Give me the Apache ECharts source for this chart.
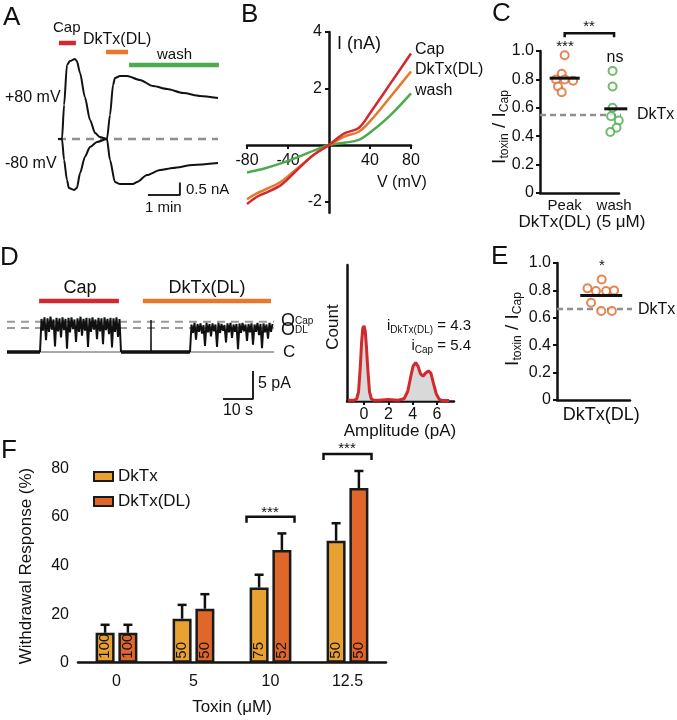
<!DOCTYPE html>
<html><head><meta charset="utf-8">
<script src="https://cdn.jsdelivr.net/npm/echarts@6/dist/echarts.min.js"></script>
<style>html,body{margin:0;padding:0;background:#fff}#c{width:677px;height:720px}</style>
</head><body><div id="c"></div>
<script>
const FF = '"Liberation Sans", Arial, Helvetica, sans-serif';
const INK = '#111';
const RED = '#D2292F', ORANGE = '#E8772E', GREEN = '#4CAB4A', GOLD = '#E9A232', DLORANGE = '#E0672A', GRAY = '#8f8f8f';

// ---------- Panel A: whole-cell current over time (min, nA) ----------
const aTimePos = [0,0.125,0.19,0.28,0.375,0.53,0.59,0.69,0.84,1.0,1.16,1.31,1.53,1.625,1.72,1.78,1.94,2.16,2.56,2.97,3.41,3.91,4.44,5.0];
const aCurPos  = [0,0,1.39,3.02,3.18,3.27,3.18,2.69,1.71,0.78,0.24,0.08,0,0.98,2.2,2.49,2.57,2.57,2.41,2.16,2.04,1.88,1.76,1.67];
const aTimeNeg = [0,0.125,0.19,0.28,0.34,0.5,0.59,0.69,0.84,1.0,1.22,1.53,1.625,1.78,1.94,2.34,2.47,2.78,3.19,3.59,4.22,5.0];
const aCurNeg  = [0,0,-0.86,-1.67,-2.0,-2.08,-2.0,-1.39,-0.73,-0.33,-0.12,0,-0.86,-1.76,-1.84,-1.84,-1.76,-1.47,-1.27,-1.18,-1.06,-0.98];
const aCapPeriod = [0.03,0.56], aDLPeriod = [1.5,2.19], aWashPeriod = [2.22,5.03];

// ---------- Panel B: I-V curves (mV, nA) ----------
const bVolt = [-80,-71,-63,-47,-31,-15,0,15,29,41,60,80];
const bCap  = [-2.09,-1.85,-1.71,-1.42,-0.88,-0.35,0,0.41,0.60,1.18,2.18,3.24];
const bDL   = [-1.92,-1.72,-1.59,-1.30,-0.83,-0.35,0,0.30,0.47,0.88,1.71,2.60];
const bWash = [-0.97,-0.90,-0.83,-0.65,-0.44,-0.20,0,0.08,0.18,0.47,1.06,1.83];
const bTicksX = [-80,-40,40,80], bTicksY = [-2,2,4];

// ---------- Panel C: Itoxin/ICap ----------
const cPeak = [0.97,0.84,0.80,0.80,0.79,0.75,0.71];
const cPeakJitter = [0,-0.12,-0.35,0,0.34,-0.27,-0.12];
const cWash = [0.86,0.75,0.60,0.54,0.51,0.46,0.43];
const cWashJitter = [-0.06,-0.06,-0.06,-0.12,0.19,0.1,-0.15];
const cDkTxRef = 0.55;
const cGroups = ['Peak','wash'];

// ---------- Panel D: single-channel trace (s, pA) ----------
const dCapStart = 11, dDLStart = 61, dStep = 0.5;
const dCapBurst = [0,5.9,3.8,6.2,2.1,6.0,3.6,6.3,4.0,5.8,1.0,6.1,3.7,6.0,2.6,6.2,3.9,5.9,0.6,6.1,3.5,6.2,4.1,5.8,1.8,6.0,3.6,6.3,2.9,5.9,3.8,6.1,0.9,6.0,3.6,6.2,4.0,5.8,2.3,6.1,3.7,6.0,1.4,6.2,3.9,5.9,3.2,6.1,0.8,6.0,3.6,6.2,2.7,5.9,0];
const dDLBurst = [0,4.9,3.4,5.2,2.2,5.0,3.6,5.1,3.3,4.8,1.1,5.2,3.5,5.0,2.8,5.1,3.7,4.9,0.9,5.2,3.4,5.0,3.8,4.8,1.7,5.1,3.5,5.2,2.5,4.9,3.6,5.0,0.5,5.1,3.4,5.2,3.7,4.9,2.0,5.0,3.5,5.1,1.3,4.9,3.6,5.2,3.0,5.0,0.7,5.1,3.5,4.9,2.4,5.2,3.6,5.0];
const dClosed1 = [[0,0],[11,0]], dClosed2 = [[38,0],[61,0]];
const dSpike = [[47.9,0],[48,5.7],[48.1,0]];
const dOpenCap = 5.4, dOpenDL = 4.3;
const dCapPeriod = [10.7,37.3], dDLPeriod = [45.3,88];
// amplitude histogram
const hAmp   = [-1.3,-0.8,-0.6,-0.45,-0.3,-0.2,-0.1,0,0.1,0.2,0.3,0.45,0.6,0.8,1.2,2.0,2.8,3.3,3.6,3.85,4.05,4.25,4.45,4.65,4.85,5.05,5.3,5.5,5.7,5.95,6.2,6.45,7.0];
const hCount = [0.01,0.01,0.03,0.12,0.47,0.78,0.97,1.0,0.93,0.72,0.45,0.12,0.03,0.01,0.01,0.02,0.01,0.03,0.13,0.33,0.47,0.51,0.46,0.36,0.33,0.37,0.40,0.37,0.24,0.09,0.02,0.005,0.005];
const hTicks = [0,2,4,6];

// ---------- Panel E ----------
const ePoints = [0.88,0.815,0.795,0.795,0.80,0.71,0.65,0.65];
const eJitter = [0.01,-0.31,-0.12,0.11,0.29,-0.23,0,0.24];
const eDkTxRef = 0.665;

// ---------- Panel F ----------
const fToxin = ['0','5','10','12.5'];
const fDkTx = [12.3,18.1,30.9,50.2], fDkTxSem = [3.3,5.7,5.3,7.2], fDkTxN = [100,50,75,50];
const fDL   = [12.3,22.2,46.4,71.9], fDLSem   = [3.3,6.0,6.8,7.0], fDLN   = [100,50,52,50];
const fSig = [[2,60.1],[3,85.9]];

const mean = a => a.reduce((s,v)=>s+v,0)/a.length;
const zip = (xs, ys) => xs.map((x,i)=>[x, ys[i]]);
const burst = (start, vals) => vals.map((v,i)=>[start + i*dStep, v]);
const seg = (p, y) => [[p[0], y], [p[1], y]];

const axStyle = {lineStyle:{color:INK, width:2.5}};
const tickStyle = {lineStyle:{color:INK, width:2}};
const lab = (fs, extra) => Object.assign({color:INK, fontSize:fs, fontFamily:FF}, extra||{});
const hidden = {show:false};

function lineS(xi, data, color, width, extra) {
  return Object.assign({type:'line', xAxisIndex:xi, yAxisIndex:xi, data, symbol:'none', silent:true,
    lineStyle:{color, width}, clip:false}, extra||{});
}
function T(x, y, text, fs, align, extra) {
  return Object.assign({type:'text', x, y, silent:true,
    style:{text, fontSize:fs, fontFamily:FF, fill:INK, align:align||'left', verticalAlign:'middle'}}, extra||{});
}
function RT(x, y, text, rich, align, extra) {
  return Object.assign({type:'text', x, y, silent:true,
    style:{text, rich, fontFamily:FF, fill:INK, align:align||'left', verticalAlign:'middle'}}, extra||{});
}
const ratioRich = {
  m:{fontSize:19, fontFamily:FF, fill:INK, lineHeight:22, padding:[0,0,2,0], verticalAlign:'bottom'},
  s:{fontSize:12, fontFamily:FF, fill:INK, lineHeight:14, verticalAlign:'bottom'}
};
const iRich = {
  m:{fontSize:15, fontFamily:FF, fill:INK, lineHeight:18, padding:[0,0,2,0], verticalAlign:'bottom'},
  s:{fontSize:10, fontFamily:FF, fill:INK, lineHeight:12, verticalAlign:'bottom'}
};
const oRich = {
  m:{fontSize:18, fontFamily:FF, fill:INK, lineHeight:18, verticalAlign:'middle'},
  s:{fontSize:10, fontFamily:FF, fill:INK, lineHeight:12, verticalAlign:'middle'}
};

const chart = echarts.init(document.getElementById('c'), null, {renderer:'canvas'});

const meanLine = (xi, halfWidths) => ({
  type:'custom', xAxisIndex:xi, yAxisIndex:xi, clip:false, z:6, silent:true,
  renderItem:(p, api) => {
    const c = api.coord([api.value(0), api.value(1)]);
    const hw = halfWidths[p.dataIndex];
    return {type:'line', shape:{x1:c[0]-hw, y1:c[1], x2:c[0]+hw, y2:c[1]}, style:{stroke:INK, lineWidth:3}};
  }
});

const errBars = (vals, sems, off) => ({
  type:'custom', xAxisIndex:6, yAxisIndex:6, z:1, silent:true, clip:false,
  data: vals.map((v,i)=>[i, v, v+sems[i]]),
  renderItem:(p, api) => {
    const a = api.coord([api.value(0), api.value(1)]);
    const b = api.coord([api.value(0), api.value(2)]);
    const x = a[0] + off;
    return {type:'group', children:[
      {type:'line', shape:{x1:x, y1:a[1], x2:x, y2:b[1]}, style:{stroke:INK, lineWidth:2.5}},
      {type:'line', shape:{x1:x-4.5, y1:b[1], x2:x+4.5, y2:b[1]}, style:{stroke:INK, lineWidth:2.5}}
    ]};
  }
});

// B grid geometry: axes cross at (0,0)
const bGrid = {left:247, top:32, width:164, height:180.8};
const bXMin = -80, bXMax = 80, bYMin = -2.4, bYMax = 4;
const bXAxisShift = -bGrid.height * (0 - bYMin) / (bYMax - bYMin);
const bYAxisShift = -bGrid.width * (0 - bXMin) / (bXMax - bXMin);

const option = {
  animation:false,
  backgroundColor:'#fff',
  textStyle:{fontFamily:FF},
  grid:[
    {left:58, top:41, width:160, height:171.5},
    bGrid,
    {left:540, top:51, width:79, height:142},
    {left:7, top:296, width:267, height:106.4},
    {left:347, top:265, width:107, height:136},
    {left:557, top:263, width:73, height:137},
    {left:78, top:468.3, width:308, height:194.4}
  ],
  legend:{
    orient:'vertical', left:88, top:463, itemWidth:19, itemHeight:9, itemGap:8,
    data:['DkTx','DkTx(DL)'], textStyle:lab(17), icon:'rect'
  },
  xAxis:[
    {gridIndex:0, type:'value', min:0, max:5, show:false},
    {gridIndex:1, type:'value', min:bXMin, max:bXMax, position:'bottom', offset:bXAxisShift,
      axisLine:Object.assign({onZero:false}, axStyle),
      axisTick:Object.assign({customValues:bTicksX, length:4}, tickStyle),
      axisLabel:lab(16, {customValues:bTicksX, margin:8}), splitLine:hidden},
    {gridIndex:2, type:'value', min:0, max:3.2, axisLine:Object.assign({onZero:false}, axStyle), axisTick:hidden,
      axisLabel:lab(15, {customValues:[1,3], margin:5, formatter:v=>cGroups[v===1?0:1]}), splitLine:hidden},
    {gridIndex:3, type:'value', min:0, max:89, show:false},
    {gridIndex:4, type:'value', min:-1.4, max:7.4, axisLine:Object.assign({onZero:false}, axStyle),
      axisTick:Object.assign({customValues:hTicks, length:4}, tickStyle),
      axisLabel:lab(16, {customValues:hTicks, margin:6}), splitLine:hidden},
    {gridIndex:5, type:'value', min:0, max:1.65, axisLine:Object.assign({onZero:false}, axStyle), axisTick:hidden,
      axisLabel:lab(18, {customValues:[1], margin:6, formatter:()=> 'DkTx(DL)'}), splitLine:hidden},
    {gridIndex:6, type:'category', data:fToxin, offset:6, axisLine:axStyle, axisTick:hidden,
      axisLabel:lab(16, {margin:5})}
  ],
  yAxis:[
    {gridIndex:0, type:'value', min:-3, max:4, show:false},
    {gridIndex:1, type:'value', min:bYMin, max:bYMax, position:'left', offset:bYAxisShift,
      axisLine:Object.assign({onZero:false}, axStyle),
      axisTick:Object.assign({customValues:bTicksY, length:4}, tickStyle),
      axisLabel:lab(16, {customValues:bTicksY, margin:7}), splitLine:hidden},
    {gridIndex:2, type:'value', min:0, max:1, interval:0.2, axisLine:Object.assign({onZero:false}, axStyle),
      axisTick:Object.assign({length:4}, tickStyle),
      axisLabel:lab(16, {margin:6, formatter:v=> v===0 ? '0' : v.toFixed(1)}), splitLine:hidden},
    {gridIndex:3, type:'value', min:-9, max:10, show:false},
    {gridIndex:4, type:'value', min:0, max:1.81, axisLine:Object.assign({onZero:false}, axStyle),
      axisTick:hidden, axisLabel:hidden, splitLine:hidden},
    {gridIndex:5, type:'value', min:0, max:1, interval:0.2, axisLine:Object.assign({onZero:false}, axStyle),
      axisTick:Object.assign({length:4}, tickStyle),
      axisLabel:lab(16, {margin:6, formatter:v=> v===0 ? '0' : v.toFixed(1)}), splitLine:hidden},
    {gridIndex:6, type:'value', min:0, max:80, interval:20, axisLine:axStyle,
      axisTick:Object.assign({length:6}, tickStyle),
      axisLabel:lab(16, {margin:9}), splitLine:hidden}
  ],
  series:[
    // A
    lineS(0, [[0,0],[5,0]], GRAY, 2.5, {lineStyle:{color:GRAY, width:2.5, type:[8,6]}}),
    lineS(0, zip(aTimePos, aCurPos), INK, 2, {smooth:0.25, smoothMonotone:'x'}),
    lineS(0, zip(aTimeNeg, aCurNeg), INK, 2, {smooth:0.25, smoothMonotone:'x'}),
    lineS(0, seg(aCapPeriod, 3.92), RED, 4.5),
    lineS(0, seg(aDLPeriod, 3.55), ORANGE, 4.5),
    lineS(0, seg(aWashPeriod, 3.02), GREEN, 4.5),
    lineS(0, [[2.81,-2.29],[3.81,-2.29],[3.81,-1.78]], '#222', 2),
    // B
    lineS(1, zip(bVolt, bWash), GREEN, 2.5, {smooth:0.35}),
    lineS(1, zip(bVolt, bDL), ORANGE, 2.5, {smooth:0.35}),
    lineS(1, zip(bVolt, bCap), RED, 2.5, {smooth:0.35}),
    // C
    lineS(2, [[0,cDkTxRef],[3.85,cDkTxRef]], GRAY, 2.5, {lineStyle:{color:GRAY, width:2.5, type:[6,4]}}),
    {type:'scatter', xAxisIndex:2, yAxisIndex:2, symbol:'circle', symbolSize:8, z:3, silent:true,
      itemStyle:{color:'#fff', borderColor:DLORANGE, borderWidth:2},
      data:cPeak.map((v,i)=>[1+cPeakJitter[i], v])},
    {type:'scatter', xAxisIndex:2, yAxisIndex:2, symbol:'circle', symbolSize:8, z:3, silent:true,
      itemStyle:{color:'#fff', borderColor:GREEN, borderWidth:2},
      data:cWash.map((v,i)=>[3+cWashJitter[i], v])},
    Object.assign(meanLine(2, [15, 11.5]), {data:[[1, mean(cPeak)],[3.07, mean(cWash)]]}),
    {type:'custom', xAxisIndex:2, yAxisIndex:2, clip:false, silent:true, data:[[1,3,1.125]],
      renderItem:(p, api) => {
        const a = api.coord([api.value(0), api.value(2)]);
        const b = api.coord([api.value(1), api.value(2)]);
        return {type:'polyline', shape:{points:[[a[0],a[1]+4],[a[0],a[1]],[b[0],b[1]],[b[0],b[1]+4]]},
          style:{stroke:INK, lineWidth:2.5, fill:null}};
      }},
    // D trace
    lineS(3, [[0,0],[89,0]], '#aaa', 2),
    lineS(3, [[0,dOpenCap],[89,dOpenCap]], '#9a9a9a', 2, {lineStyle:{color:'#9a9a9a', width:2, type:[8,6]}}),
    lineS(3, [[0,dOpenDL],[89,dOpenDL]], '#9a9a9a', 2, {lineStyle:{color:'#9a9a9a', width:2, type:[8,6]}}),
    lineS(3, dClosed1, INK, 3.5),
    lineS(3, dClosed2, INK, 3.5),
    lineS(3, burst(dCapStart, dCapBurst), INK, 2),
    lineS(3, burst(dDLStart, dDLBurst), INK, 2),
    lineS(3, dSpike, INK, 1),
    lineS(3, seg(dCapPeriod, 9.1), RED, 4.5),
    lineS(3, seg(dDLPeriod, 9.1), ORANGE, 4.5),
    lineS(3, [[72,-8.4],[82,-8.4],[82,-3.4]], '#222', 2),
    // D histogram
    lineS(4, zip(hAmp, hCount), RED, 3, {smooth:false, areaStyle:{color:'#c9c9c9'}}),
    // E
    lineS(5, [[0,eDkTxRef],[1.72,eDkTxRef]], GRAY, 2.5, {lineStyle:{color:GRAY, width:2.5, type:[6,4]}}),
    {type:'scatter', xAxisIndex:5, yAxisIndex:5, symbol:'circle', symbolSize:8, z:3, silent:true,
      itemStyle:{color:'#fff', borderColor:DLORANGE, borderWidth:2},
      data:ePoints.map((v,i)=>[1+eJitter[i], v])},
    Object.assign(meanLine(5, [21]), {data:[[1, mean(ePoints)]]}),
    // F
    {name:'DkTx', type:'bar', xAxisIndex:6, yAxisIndex:6, data:fDkTx, barWidth:19, barGap:'20%', z:2,
      itemStyle:{color:GOLD, borderColor:'#1a1a1a', borderWidth:2.5},
      label:{show:true, position:'insideBottom', rotate:90, align:'left', verticalAlign:'middle', distance:4,
        fontSize:15, fontFamily:FF, color:INK, formatter:p=>String(fDkTxN[p.dataIndex])}},
    {name:'DkTx(DL)', type:'bar', xAxisIndex:6, yAxisIndex:6, data:fDL, barWidth:19, z:2,
      itemStyle:{color:DLORANGE, borderColor:'#1a1a1a', borderWidth:2.5},
      label:{show:true, position:'insideBottom', rotate:90, align:'left', verticalAlign:'middle', distance:4,
        fontSize:15, fontFamily:FF, color:INK, formatter:p=>String(fDLN[p.dataIndex])}},
    errBars(fDkTx, fDkTxSem, -11.4),
    errBars(fDL, fDLSem, 11.4),
    {type:'custom', xAxisIndex:6, yAxisIndex:6, clip:false, silent:true, data:fSig,
      renderItem:(p, api) => {
        const c = api.coord([api.value(0), api.value(1)]);
        const l = c[0]-24, r = c[0]+24;
        return {type:'polyline', shape:{points:[[l,c[1]+6],[l,c[1]],[r,c[1]],[r,c[1]+6]]},
          style:{stroke:INK, lineWidth:2.5, fill:null}};
      }}
  ],
  graphic:[
    // panel letters
    T(3, 18, 'A', 26), T(241, 15, 'B', 26), T(492, 14, 'C', 26),
    T(0, 258, 'D', 26), T(491, 257, 'E', 26), T(1, 451, 'F', 26),
    // A
    T(53, 28, 'Cap', 15), T(83, 40, 'DkTx(DL)', 16), T(157, 55, 'wash', 15),
    T(5, 98, '+80 mV', 16), T(5, 164, '-80 mV', 16),
    T(186, 190, '0.5 nA', 15), T(145, 208, '1 min', 15),
    // B
    T(337, 44, 'I (nA)', 18), T(377, 183, 'V (mV)', 16),
    T(415, 50, 'Cap', 16), T(415, 70, 'DkTx(DL)', 16), T(415, 91, 'wash', 16),
    // C
    RT(500, 127, '{m|I}{s|toxin}{m| / I}{s|Cap}', ratioRich, 'center', {rotation:Math.PI/2}),
    T(589, 27, '**', 15, 'center'), T(565, 47, '***', 15, 'center'), T(615, 58, 'ns', 16, 'center'),
    T(637, 115, 'DkTx', 16),
    T(582, 222, 'DkTx(DL) (5 \u03bcM)', 17, 'center'),
    // D
    T(80, 288, 'Cap', 18, 'center'), T(207, 288, 'DkTx(DL)', 18, 'center'),
    RT(281, 321, '{m|O}{s|Cap}', oRich), RT(281, 330, '{m|O}{s|DL}', oRich),
    T(283, 352, 'C', 17), T(258, 384, '5 pA', 16), T(238, 411, '10 s', 16, 'center'),
    T(333, 327, 'Count', 17, 'center', {rotation:Math.PI/2}),
    RT(471, 326, '{m|i}{s|DkTx(DL)}{m| = 4.3}', iRich, 'right'),
    RT(471, 346, '{m|i}{s|Cap}{m| = 5.4}', iRich, 'right'),
    T(400, 431, 'Amplitude (pA)', 17, 'center'),
    // E
    RT(513, 329, '{m|I}{s|toxin}{m| / I}{s|Cap}', ratioRich, 'center', {rotation:Math.PI/2}),
    T(602, 266, '*', 15, 'center'), T(638, 310, 'DkTx', 16),
    // F
    T(26, 566, 'Withdrawal Response (%)', 17, 'center', {rotation:Math.PI/2}),
    T(232, 707, 'Toxin (\u03bcM)', 17, 'center'),
    T(270, 513, '***', 15, 'center'), T(347, 449, '***', 15, 'center')
  ]
};
chart.setOption(option);
</script>
</body></html>
